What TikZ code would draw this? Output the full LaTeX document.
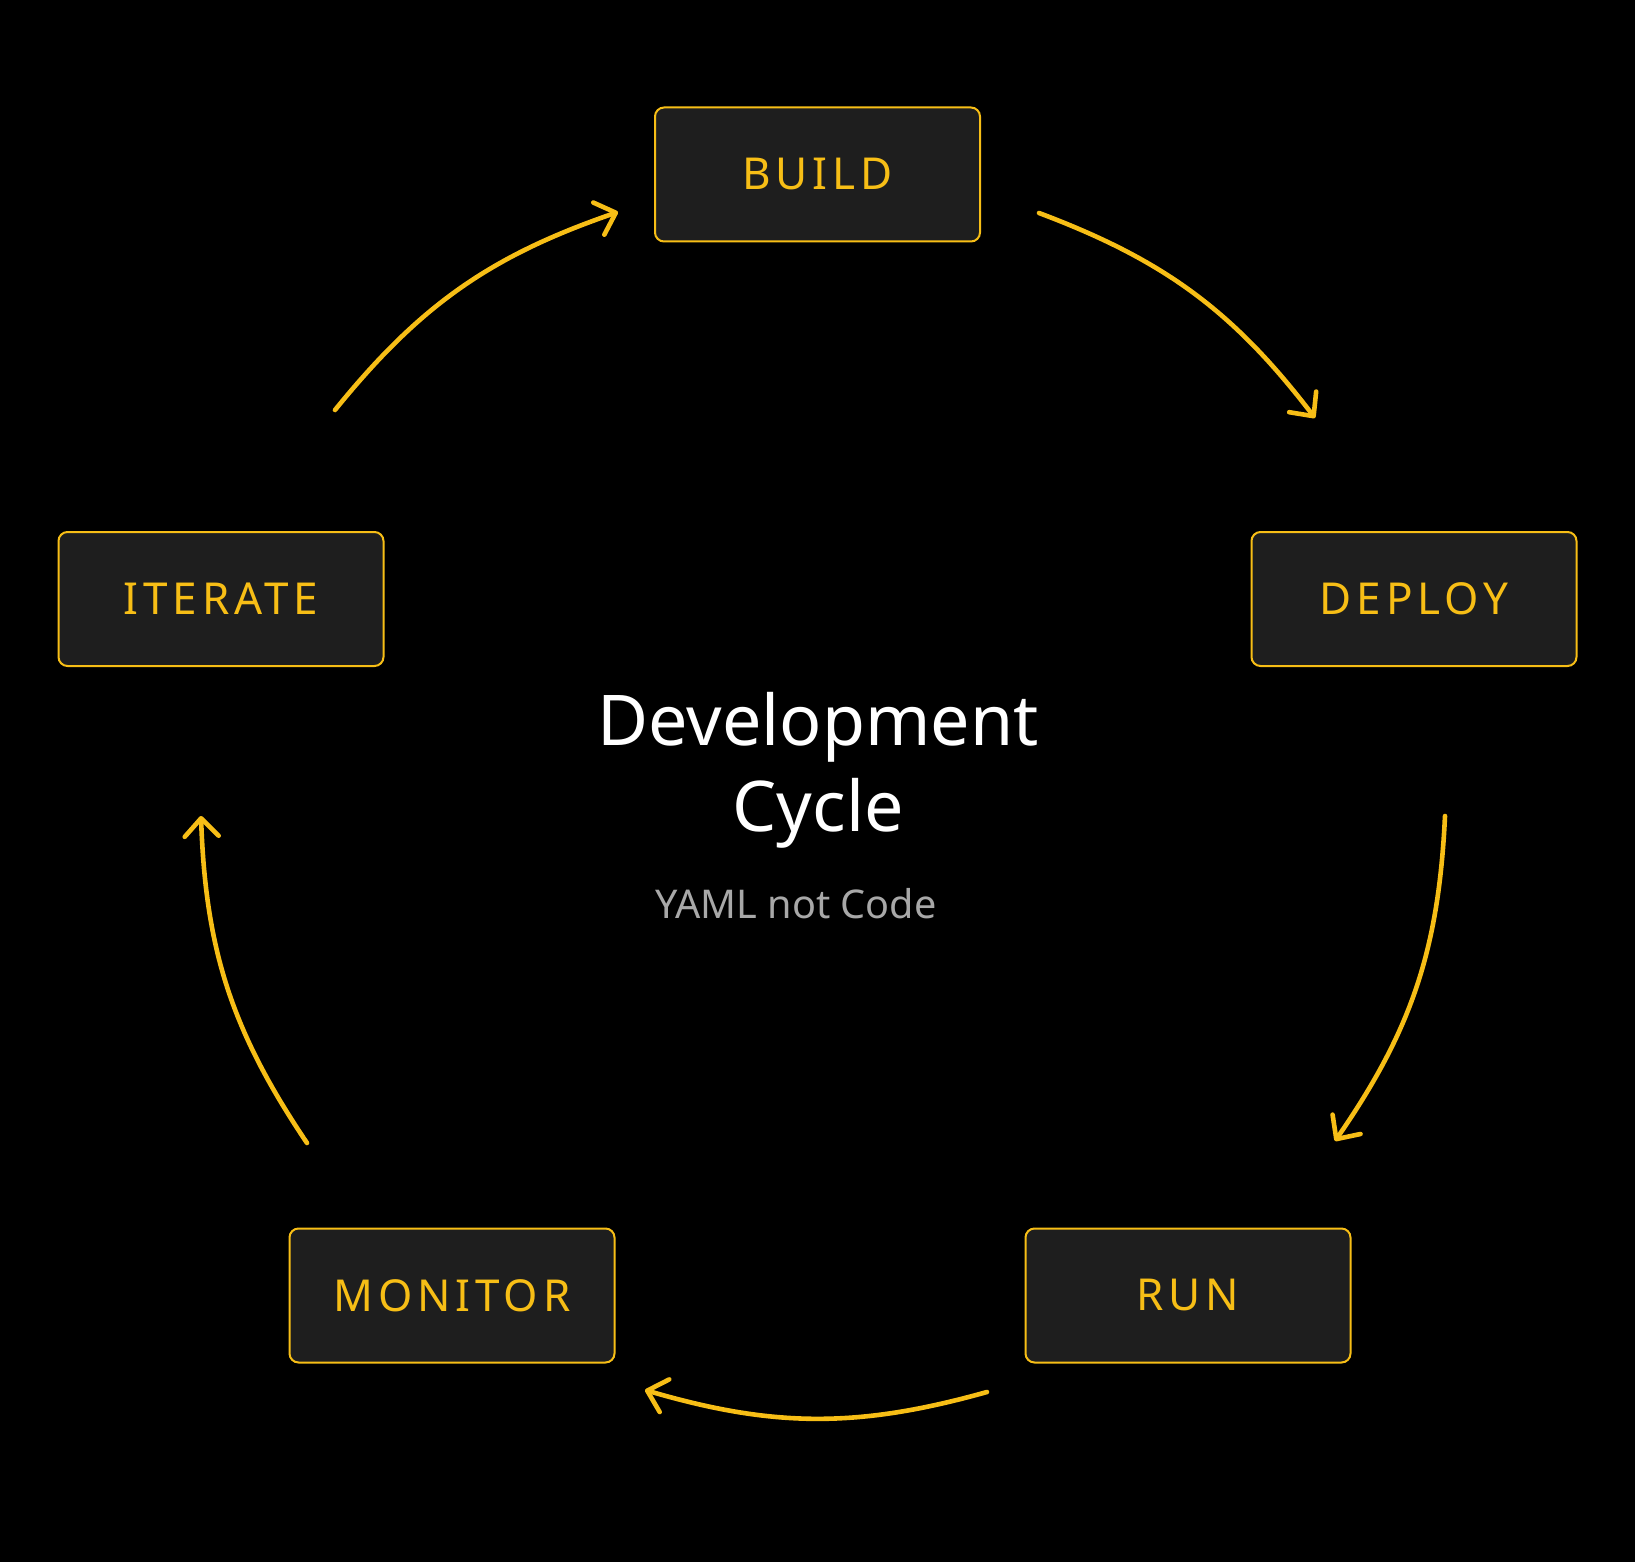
\documentclass[tikz,border=0pt]{standalone}
\usepackage{fontspec}
\setmainfont{Noto Sans}
\newfontfamily\boxfont[LetterSpace=11]{Noto Sans}
\usetikzlibrary{arrows.meta}
\definecolor{gold}{HTML}{F7BE16}
\definecolor{boxfill}{HTML}{1E1E1E}
\definecolor{subgray}{HTML}{A8A8A8}
\begin{document}
\begin{tikzpicture}[x=0.5pt,y=-0.5pt,
  stagebox/.style={draw=gold, line width=1pt, fill=boxfill, rounded corners=4.5pt,
    minimum width=162.5pt, minimum height=67pt, inner sep=0pt,
    text=gold, font=\boxfont\fontsize{22pt}{26pt}\selectfont},
  cyclearrow/.style={draw=gold, line width=2.3pt, line cap=round,
    -{Straight Barb[length=9pt,width=17pt,line cap=round,line join=round]}}
]
\fill[black] (0,0) rectangle (1635,1562);
\useasboundingbox (0,0) rectangle (1635,1562);

\node[stagebox] (build)   at (817.5,174.5) {BUILD};
\node[stagebox] (deploy)  at (1414,599)    {DEPLOY};
\node[stagebox] (run)     at (1188,1295.5) {RUN};
\node[stagebox] (monitor) at (452,1295.5)  {MONITOR};
\node[stagebox] (iterate) at (221,599)     {ITERATE};

\node[anchor=base, text=white, font=\fontsize{35pt}{43pt}\selectfont] (t1) at (818,745) {Development};
\node[anchor=base, text=white, font=\fontsize{35pt}{43pt}\selectfont] (t2) at (818,831) {Cycle};
\node[anchor=base, text=subgray, font=\fontsize{19.8pt}{24pt}\selectfont] (sub) at (796,918) {YAML not Code};

\coordinate (a1s) at (335,410);  \coordinate (a1e) at (618,212);
\coordinate (a2s) at (1039,213); \coordinate (a2e) at (1315,418);
\coordinate (a3s) at (1445,816); \coordinate (a3e) at (1335,1141);
\coordinate (a4s) at (987,1392); \coordinate (a4e) at (645,1390);
\coordinate (a5s) at (307,1143); \coordinate (a5e) at (201,816);

\draw[cyclearrow] (a1s) to[bend left=16] (a1e);
\draw[cyclearrow] (a2s) to[bend left=16] (a2e);
\draw[cyclearrow] (a3s) to[bend left=16] (a3e);
\draw[cyclearrow] (a4s) to[bend left=16] (a4e);
\draw[cyclearrow] (a5s) to[bend left=16] (a5e);
\end{tikzpicture}
\end{document}
